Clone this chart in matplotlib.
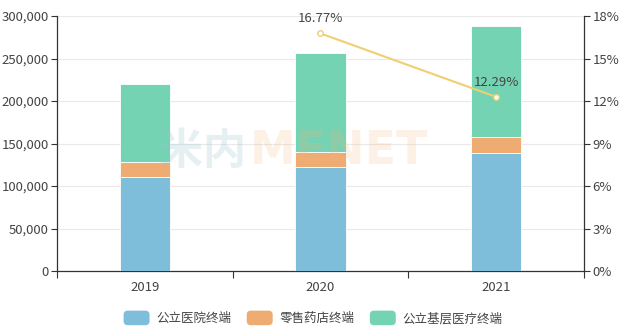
import numpy as np
import matplotlib.pyplot as plt
from matplotlib.ticker import FuncFormatter, MultipleLocator
from matplotlib.patches import FancyBboxPatch
from matplotlib.legend_handler import HandlerPatch

plt.rcParams['font.family'] = ['Noto Sans CJK SC', 'DejaVu Sans']

# data
years = ['2019', '2020', '2021']
public_hospital = [110600, 122000, 138400]
retail_pharmacy = [17300, 18400, 19600]
primary_care = [91700, 116400, 130200]
growth_years = ['2020', '2021']
growth = [16.77, 12.29]

series_names = ['公立医院终端', '零售药店终端', '公立基层医疗终端']
colors = ['#7fbedb', '#eeab72', '#74d3b3']
line_color = '#f0cf72'
axis_color = '#333333'
text_color = '#444444'


class RoundHandler(HandlerPatch):
    def create_artists(self, legend, orig_handle, xdescent, ydescent, width, height, fontsize, trans):
        p = FancyBboxPatch((-xdescent + 1, -ydescent - 1.5), width - 2, height + 3,
                           boxstyle='round,pad=0,rounding_size=3',
                           facecolor=orig_handle.get_facecolor(), edgecolor='none',
                           transform=trans)
        return [p]


fig = plt.figure(figsize=(6.25, 3.32), dpi=100)
ax = fig.add_axes([0.0912, 0.1837, 0.8432, 0.7681])

x = np.arange(len(years))
bottom = np.zeros(len(years))
handles = []
for vals, c, name in zip([public_hospital, retail_pharmacy, primary_care], colors, series_names):
    b = ax.bar(x, vals, width=0.285, bottom=bottom, color=c, edgecolor='white',
               linewidth=0.6, label=name, zorder=3)
    handles.append(b.patches[0])
    bottom += np.array(vals)

ax.set_xlim(-0.5, 2.5)
ax.set_ylim(0, 300000)
ax.yaxis.set_major_locator(MultipleLocator(50000))
ax.yaxis.set_major_formatter(FuncFormatter(lambda v, p: f'{int(v):,}'))
ax.set_xticks(x)
ax.set_xticklabels(years)
ax.set_xticks([-0.5, 0.5, 1.5, 2.5], minor=True)
ax.tick_params(axis='x', which='major', length=0, pad=7, labelsize=9.5, colors=text_color)
ax.tick_params(axis='x', which='minor', length=5, color=axis_color, width=0.8)
ax.tick_params(axis='y', length=4, color=axis_color, width=0.8, labelsize=9.5,
               labelcolor=text_color, pad=2)
ax.grid(axis='y', color='#e9e9e9', linewidth=0.8, zorder=0)
ax.set_axisbelow(True)
for s in ['top', 'right']:
    ax.spines[s].set_visible(False)
for s in ['left', 'bottom']:
    ax.spines[s].set_color(axis_color)
    ax.spines[s].set_linewidth(0.9)

# watermark
ax.text(0.195, 0.47, '米内', transform=ax.transAxes, fontsize=31, fontweight='bold',
        color='#9cc3cc', alpha=0.25, ha='left', va='center', zorder=4)
ax.text(0.365, 0.47, 'MENET', transform=ax.transAxes, fontsize=33, fontweight='bold',
        family='DejaVu Sans', color='#f5b47a', alpha=0.2, ha='left', va='center', zorder=4)

ax2 = ax.twinx()
ax2.set_ylim(0, 18)
ax2.yaxis.set_major_locator(MultipleLocator(3))
ax2.yaxis.set_major_formatter(FuncFormatter(lambda v, p: f'{int(v)}%'))
ax2.tick_params(axis='y', length=4, color=axis_color, width=0.8, labelsize=9.5,
                labelcolor=text_color, pad=2)
for s in ['top', 'left', 'bottom']:
    ax2.spines[s].set_visible(False)
ax2.spines['right'].set_color(axis_color)
ax2.spines['right'].set_linewidth(0.9)

gx = [years.index(y) for y in growth_years]
ax2.plot(gx, growth, color=line_color, linewidth=1.5, marker='o', markersize=4,
         markerfacecolor='white', markeredgecolor=line_color, markeredgewidth=1, zorder=5)
for xi, g in zip(gx, growth):
    ax2.annotate(f'{g:.2f}%', (xi, g), xytext=(0, 6), textcoords='offset points',
                 ha='center', va='bottom', fontsize=9.5, color=text_color)

fig.legend(handles, series_names, loc='center', bbox_to_anchor=(0.5, 0.04),
           ncol=3, frameon=False, fontsize=9, handlelength=2.3, handleheight=0.9,
           columnspacing=1.1, handletextpad=0.45, labelcolor=text_color,
           handler_map={plt.Rectangle: RoundHandler()})

fig.savefig('out.png', dpi=100)
